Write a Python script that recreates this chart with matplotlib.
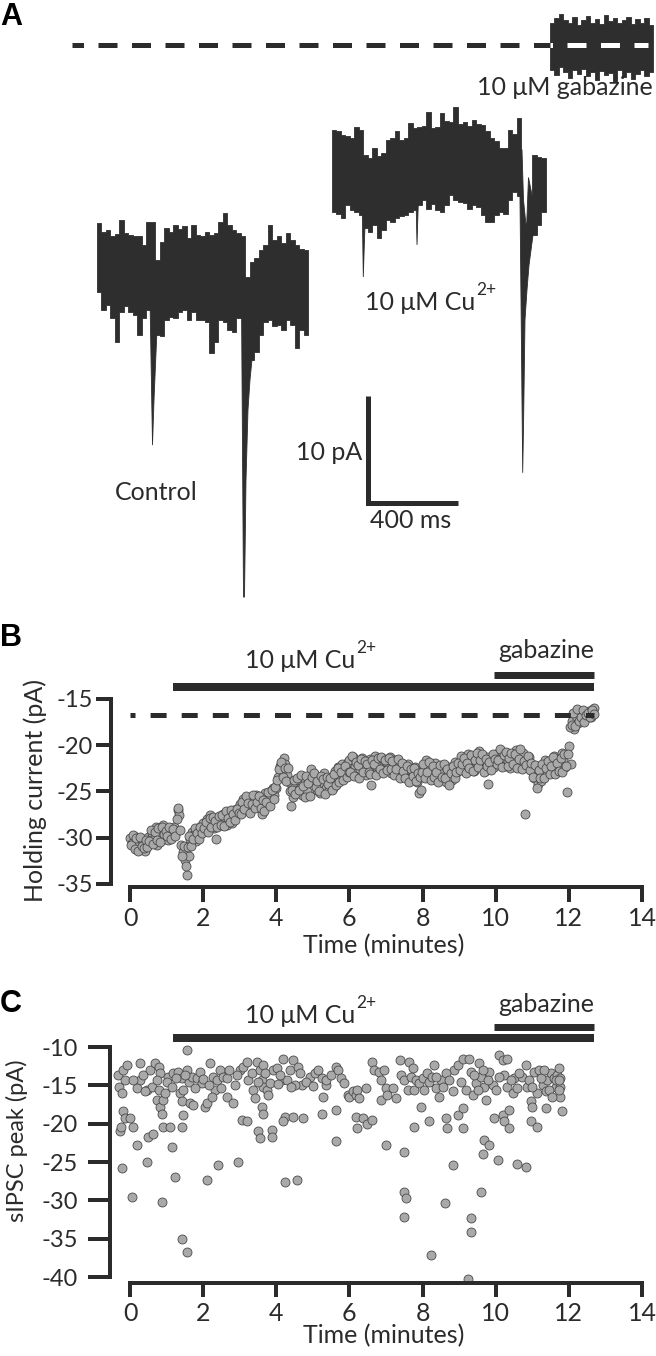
import numpy as np
import matplotlib
matplotlib.use("Agg")
import matplotlib.pyplot as plt
from matplotlib.patches import Polygon

plt.rcParams['font.family'] = ['Lato', 'DejaVu Sans']
plt.rcParams['lines.scale_dashes'] = False
plt.rcParams['axes.unicode_minus'] = False

# ======================= DATA =======================
# Panel A: example traces, upper / lower edge of the noisy current in 20-ms bins (pA, relative to baseline)
trace_bin_ms = 20.0
control_top = [4.9, 4.0, 4.2, 3.6, 3.8, 5.1, 3.9, 3.7, 3.6, 3.6, 2.8, 5.0, 5.0, 1.4, 3.1, 4.4,
               4.0, 4.7, 4.3, 4.6, 3.5, 4.7, 3.7, 3.6, 4.0, 3.7, 3.9, 5.0, 5.8, 4.7, 4.2, 3.9,
               3.6, -0.2, 1.2, 1.6, 2.3, 2.8, 4.7, 3.3, 3.6, 3.0, 3.9, 3.3, 2.8, 2.4, 2.3]
control_bottom = [-1.6, -3.3, -2.8, -4.0, -6.3, -3.5, -2.9, -3.5, -3.7, -5.6, -4.0, -3.3, -3.0,
                  -5.6, -5.7, -4.2, -3.9, -4.0, -3.5, -3.3, -4.2, -3.5, -4.2, -4.2, -4.4, -7.3,
                  -6.3, -4.2, -4.4, -5.1, -5.3, -4.0, -4.0, -6.0, -7.9, -7.2, -5.6, -4.4, -4.2,
                  -4.8, -4.7, -5.1, -4.2, -4.7, -6.8, -5.1, -5.6]
# sIPSC events in the control trace: outline (ms, pA)
control_events = [
    [(235.6, -2.3), (246.7, -15.9), (253.3, -11.7), (266.7, -5.1), (271.1, -2.3)],
    [(642.2, -2.3), (651.1, -30.1), (655.6, -30.1), (662.2, -19.2), (671.1, -12.6),
     (680.0, -9.8), (693.3, -7.0), (706.7, -4.2), (715.6, -2.3)],
]
cu_top = [3.7, 3.6, 3.3, 3.2, 3.0, 4.0, 3.7, 1.4, 1.1, 2.1, 1.3, 1.6, 2.8, 3.0, 3.6, 2.8, 3.0,
          4.4, 3.9, 4.0, 4.1, 5.4, 3.9, 4.0, 5.3, 4.6, 4.5, 5.9, 4.3, 4.5, 4.1, 4.7, 4.3, 4.2,
          3.6, 3.0, 2.7, 2.1, 2.1, 3.7, 3.4, 4.9]
cu_bottom = [-3.9, -4.1, -4.5, -3.3, -3.7, -3.9, -4.2, -5.4, -5.8, -5.1, -6.4, -5.6, -4.7, -4.9,
             -4.5, -4.3, -4.2, -3.9, -3.7, -3.3, -2.8, -3.6, -3.2, -3.7, -3.9, -3.3, -2.3, -2.8,
             -3.0, -3.1, -3.6, -3.3, -3.5, -4.2, -4.9, -4.9, -4.2, -3.9, -4.1, -2.8, -2.1, -2.4]
cu_tail_start_ms = 891.1
cu_tail_top = [1.4, 1.2, 1.1]
cu_tail_bottom = [-6.1, -5.1, -3.9]
cu_events = [
    [(133.3, -2.0), (139.1, -10.0), (144.4, -6.5), (151.1, -3.0)],
    [(373.3, -2.5), (377.8, -7.0), (384.4, -2.5)],
    [(833.3, 1.9), (840.0, -12.1), (847.6, -28.3), (851.6, -23.4), (857.8, -14.0), (866.7, -11.2),
     (875.6, -8.9), (884.4, -7.5), (893.3, -6.1), (893.3, -2.8), (873.3, -0.7), (864.4, -5.6),
     (851.1, -2.8), (844.4, 1.9)],
]
gbz_top = [2.1, 2.5, 2.9, 2.3, 2.1, 2.6, 1.9, 2.3, 2.7, 2.1, 2.4, 2.0, 2.8, 2.2, 2.5, 2.1, 2.3,
           2.6, 2.0, 2.4, 2.1, 2.5, 1.9]
gbz_bottom = [-2.3, -2.8, -2.1, -2.5, -3.1, -2.3, -2.7, -2.2, -2.9, -2.5, -3.3, -2.4, -2.8, -2.6,
              -3.5, -2.3, -3.0, -2.5, -3.2, -2.7, -2.3, -2.9, -2.5]
scale_ms, scale_pA = 400, 10

# Panel B: holding current, samples every 0.05 min (two interleaved sweeps, offset 0.025 min)
b_step_min = 0.05
b_holding = [
    -30.0, -30.6, -29.8, -31.0, -30.4, -31.3, -30.2, -30.8, -31.4, -30.5,
    -29.9, -30.6, -29.5, -30.2, -28.9, -30.8, -29.3, -29.9, -28.6, -30.1,
    -29.2, -30.3, -29.0, -29.6, -28.9, -29.4, -27.0, -27.6, -30.8, -31.6,
    -32.4, -34.0, -32.0, -30.2, -29.4, -29.6, -30.4, -29.0, -29.8, -28.7,
    -28.4, -29.2, -28.0, -28.8, -27.6, -28.5, -29.0, -30.2, -28.1, -27.8,
    -28.3, -27.4, -27.9, -28.6, -27.2, -27.8, -28.4, -27.0, -27.6, -26.8,
    -26.4, -27.2, -25.8, -26.6, -27.0, -26.2, -25.6, -26.8, -26.0, -25.4,
    -26.3, -25.7, -27.4, -26.0, -25.2, -26.5, -25.8, -25.0, -24.6, -25.4,
    -24.6, -23.4, -22.3, -22.8, -21.4, -22.0, -23.2, -24.0, -26.6, -25.6,
    -24.2, -25.0, -23.8, -24.6, -25.4, -23.6, -24.4, -25.0, -23.9, -22.6,
    -24.0, -23.2, -24.8, -23.6, -25.2, -24.4, -23.0, -24.6, -23.8, -24.9,
    -23.4, -24.6, -22.8, -23.9, -22.4, -23.2, -22.0, -23.6, -22.6, -21.8,
    -21.6, -22.8, -21.3, -22.2, -23.0, -21.9, -22.6, -21.4, -22.4, -23.2,
    -22.0, -21.5, -24.3, -22.6, -21.2, -22.2, -21.7, -22.9, -21.4, -22.3,
    -21.8, -22.5, -21.3, -23.0, -22.1, -21.6, -22.8, -22.2, -23.3, -22.0,
    -22.6, -23.4, -22.0, -23.8, -22.9, -23.6, -22.4, -24.0, -25.2, -24.8,
    -23.2, -22.4, -21.6, -23.0, -22.2, -23.5, -22.8, -21.9, -22.6, -23.4,
    -22.8, -23.6, -22.2, -24.0, -23.1, -22.4, -23.8, -22.7, -21.8, -22.9,
    -22.0, -21.2, -22.6, -21.6, -22.9, -21.0, -22.3, -21.5, -22.8, -21.8,
    -21.4, -20.6, -22.2, -21.7, -22.8, -21.3, -24.2, -22.0, -21.6, -22.4,
    -21.2, -20.8, -21.9, -20.6, -21.5, -22.3, -20.9, -21.7, -22.5, -21.0,
    -21.4, -20.5, -22.2, -21.0, -21.8, -20.8, -27.4, -22.0, -21.3, -22.6,
    -22.8, -23.6, -22.2, -24.2, -23.0, -23.9, -22.4, -21.6, -22.9, -22.0,
    -21.8, -22.6, -21.2, -22.9, -21.5, -22.2, -20.8, -21.6, -22.4, -25.1,
    -20.1, -22.0, -17.4, -18.2, -16.8, -17.6, -16.4, -17.0, -16.6, -17.2,
    -16.8, -16.3, -16.9, -16.1, -16.0,
]
b_holding_mid = [
    -30.8, -29.7, -31.2, -30.0, -31.5, -29.9, -30.9, -31.1, -30.3, -31.0,
    -30.4, -29.2, -30.7, -29.4, -30.3, -29.0, -30.5, -28.8, -29.6, -29.3,
    -29.8, -28.9, -30.2, -29.1, -29.8, -28.0, -26.8, -29.2, -32.0, -30.9,
    -33.1, -31.0, -29.8, -30.9, -30.1, -29.0, -29.5, -30.2, -28.9, -29.5,
    -29.0, -28.3, -29.4, -27.9, -28.9, -27.8, -28.2, -28.9, -27.7, -28.6,
    -27.6, -28.7, -27.1, -27.9, -28.3, -27.0, -27.4, -28.1, -26.9, -27.3,
    -27.4, -26.1, -26.9, -25.5, -26.3, -27.3, -26.4, -25.4, -26.8, -26.1,
    -25.5, -26.8, -25.9, -27.1, -26.2, -25.1, -26.6, -24.8, -25.8, -24.5,
    -23.8, -22.6, -21.8, -23.4, -22.5, -23.9, -22.5, -25.0, -24.9, -23.8,
    -25.3, -23.5, -24.9, -23.2, -24.4, -25.6, -23.3, -24.1, -25.5, -23.4,
    -23.0, -24.5, -23.9, -25.0, -23.3, -23.7, -25.3, -23.4, -24.2, -23.6,
    -24.8, -23.1, -24.3, -22.5, -24.0, -22.9, -23.8, -22.3, -23.4, -22.9,
    -22.9, -21.2, -23.3, -21.8, -22.1, -23.5, -21.5, -22.9, -21.7, -22.0,
    -22.9, -23.1, -21.6, -22.0, -23.2, -21.4, -22.6, -21.3, -23.0, -21.6,
    -22.7, -21.4, -22.6, -21.7, -23.2, -22.6, -21.5, -23.5, -21.9, -22.8,
    -23.5, -22.3, -24.0, -22.6, -23.3, -22.5, -23.9, -23.0, -23.4, -22.9,
    -22.0, -23.6, -22.9, -21.8, -23.8, -22.2, -23.4, -22.9, -24.0, -22.1,
    -23.4, -22.0, -23.5, -22.6, -24.3, -23.0, -22.2, -23.6, -22.9, -21.9,
    -22.7, -22.0, -21.4, -23.0, -21.9, -22.5, -21.1, -22.8, -21.6, -20.8,
    -22.4, -21.6, -20.9, -22.9, -21.5, -22.3, -21.8, -22.7, -20.9, -21.5,
    -22.0, -21.6, -20.4, -22.4, -21.1, -20.7, -22.2, -21.4, -20.8, -22.0,
    -20.9, -22.5, -21.5, -20.4, -22.6, -21.7, -22.1, -21.2, -22.7, -21.9,
    -23.4, -22.1, -24.6, -22.7, -23.5, -22.0, -23.6, -22.5, -21.7, -23.1,
    -22.3, -21.3, -23.1, -21.9, -22.8, -21.4, -22.9, -20.9, -22.2, -21.0,
    -18.0, -17.8, -16.5, -17.9, -16.1, -17.4, -16.9, -16.2, -17.5, -16.7,
    -16.5, -17.0, -16.2, -16.6,
]
gbz_level_pA = -16.7

# Panel C: sIPSC peaks (time in minutes, peak in pA)
c_events = [
    (-0.32, -13.7), (-0.29, -15.2), (-0.23, -16.0), (-0.18, -13.0), (-0.09, -12.3), (-0.14, -14.3),
    (-0.27, -21.0), (-0.25, -20.4), (-0.18, -18.4), (-0.14, -19.3), (0.00, -19.3), (0.07, -20.4),
    (-0.23, -25.8), (0.05, -29.5), (0.18, -22.8), (0.46, -25.0), (0.27, -14.3), (0.18, -15.4),
    (0.27, -12.1), (0.09, -14.3), (0.55, -13.0), (0.46, -15.6), (0.59, -15.2), (0.50, -21.7),
    (0.64, -21.3), (0.68, -12.1), (0.78, -12.6), (0.82, -13.4), (0.73, -14.3), (0.78, -15.6),
    (0.73, -16.9), (0.82, -17.8), (0.87, -18.7), (0.91, -16.9), (0.96, -16.0), (0.87, -30.2),
    (0.89, -20.4), (1.09, -20.4), (1.14, -23.0), (1.23, -26.9), (1.05, -13.9), (1.18, -13.4),
    (1.32, -13.2), (1.41, -14.1), (1.37, -16.0), (1.41, -17.1), (1.46, -15.6), (1.41, -20.4),
    (1.46, -18.9), (1.41, -35.0), (1.55, -36.7), (1.56, -10.4), (1.55, -13.0), (1.60, -14.5),
    (1.69, -13.9), (1.64, -17.3), (1.73, -17.6), (1.82, -14.1), (1.91, -13.2), (1.96, -14.7),
    (2.05, -17.8), (2.10, -17.3), (2.19, -12.1), (2.10, -27.3), (2.28, -13.9), (2.37, -14.3),
    (2.32, -15.6), (2.46, -13.0), (2.42, -25.4), (2.55, -13.9), (2.64, -14.1), (2.64, -16.5),
    (2.83, -17.3), (2.87, -15.0), (2.96, -25.0), (3.01, -13.0), (3.10, -12.6), (3.19, -11.9),
    (3.05, -19.5), (3.19, -19.7), (3.24, -14.3), (3.33, -13.4), (3.37, -15.6), (3.42, -16.7),
    (3.46, -11.9), (3.55, -13.0), (3.65, -12.3), (3.60, -14.3), (3.65, -15.2), (3.74, -15.6),
    (3.83, -14.7), (3.60, -17.8), (3.65, -18.7), (3.51, -21.0), (3.55, -21.9), (3.87, -20.8),
    (3.87, -21.7), (3.92, -13.0), (4.01, -12.8), (4.19, -11.5), (4.15, -14.3), (4.28, -14.3),
    (4.37, -13.0), (4.47, -11.7), (4.24, -19.1), (4.19, -19.7), (4.47, -19.1), (4.74, -19.3),
    (4.24, -27.6), (4.56, -27.3), (4.60, -12.6), (4.65, -13.4), (4.69, -15.0), (4.51, -15.0),
    (4.92, -13.9), (5.06, -13.4), (5.24, -14.1), (5.29, -16.5), (5.24, -18.7),
    (0.35, -13.6), (0.40, -15.8), (1.00, -14.6), (1.14, -15.2), (1.25, -14.0), (1.50, -13.6),
    (1.78, -15.3), (2.00, -14.2), (2.15, -15.0), (2.24, -16.5), (2.50, -15.3), (2.70, -13.0),
    (2.92, -13.6), (3.50, -14.6), (3.70, -13.4), (3.78, -16.2), (4.05, -14.8), (4.10, -13.6),
    (4.40, -15.2), (4.80, -14.5), (5.00, -15.1), (5.15, -13.0), (5.35, -15.0),
    (5.36, -14.3), (5.50, -13.7), (5.63, -12.6), (5.68, -13.0), (5.77, -14.1), (5.63, -18.2),
    (5.63, -22.3), (5.86, -14.7), (5.95, -16.3), (5.99, -16.5), (6.09, -15.8), (6.17, -16.3),
    (6.22, -15.6), (6.27, -16.7), (6.17, -19.1), (6.22, -20.6), (6.36, -19.3), (6.49, -20.0),
    (6.63, -19.5), (6.45, -15.4), (6.63, -11.9), (6.68, -13.0), (6.82, -13.2), (6.95, -13.0),
    (6.86, -14.3), (6.99, -15.4), (6.86, -16.9), (7.04, -16.3), (7.18, -15.4), (7.27, -16.7),
    (6.99, -22.8), (7.37, -11.7), (7.41, -13.7), (7.50, -14.3), (7.59, -15.6), (7.64, -11.9),
    (7.73, -12.8), (7.68, -13.9), (7.82, -14.3), (7.77, -15.6), (7.91, -14.7), (8.00, -14.1),
    (8.04, -15.6), (8.13, -13.4), (8.18, -14.5), (8.27, -13.9), (8.32, -12.3), (8.36, -15.4),
    (8.45, -16.5), (8.50, -14.3), (7.77, -20.4), (7.50, -23.7), (7.50, -28.9), (7.55, -29.7),
    (7.50, -32.1), (7.95, -17.8), (8.18, -19.7), (8.63, -19.3), (8.68, -20.6), (8.82, -25.4),
    (8.61, -30.4), (8.24, -37.1), (9.23, -40.2), (9.32, -32.3), (9.32, -34.1), (9.60, -28.9),
    (9.65, -23.9), (9.69, -22.1), (9.83, -22.8), (9.10, -20.6), (8.96, -18.9), (9.10, -18.0),
    (8.82, -15.8), (8.87, -13.0), (8.96, -12.3), (9.10, -11.5), (9.05, -14.5), (9.19, -15.6),
    (9.28, -11.5), (9.32, -13.2), (9.37, -16.3), (9.46, -14.7), (9.55, -12.1), (9.60, -13.9),
    (9.69, -15.2), (9.74, -16.9), (9.83, -13.2), (9.92, -15.0), (9.96, -19.3), (10.05, -24.7),
    (10.10, -11.0), (10.19, -11.7), (10.32, -11.5), (10.23, -13.7), (10.32, -15.2), (10.19, -18.9),
    (10.23, -19.7), (10.36, -18.2), (10.46, -16.0), (10.36, -20.6), (10.50, -14.1), (10.59, -15.4),
    (10.73, -13.9), (10.82, -12.3), (10.86, -15.2), (10.59, -25.2), (10.82, -25.6), (10.96, -17.1),
    (11.00, -17.8), (10.96, -19.7), (11.14, -20.4), (11.05, -13.2), (11.19, -13.0), (11.14, -16.0),
    (11.28, -15.0), (11.37, -15.8), (11.41, -14.3), (11.37, -18.0), (11.50, -13.4), (11.59, -14.1),
    (11.64, -15.2), (11.68, -13.7), (11.73, -12.8), (11.77, -14.1), (11.77, -15.2), (11.77, -16.5),
    (11.82, -18.4), (11.73, -15.6),
    (8.36, -13.9), (8.55, -15.2), (8.64, -13.4), (8.73, -14.3), (9.42, -13.7), (9.51, -15.6),
    (9.65, -13.0), (9.78, -14.3), (10.00, -15.6), (10.10, -13.9), (10.42, -14.3), (10.64, -13.4),
    (10.91, -14.3), (11.00, -15.2), (11.23, -14.1), (11.32, -13.0), (11.46, -15.6), (11.55, -16.5),
    (11.64, -14.3), (11.73, -14.3),
]
c_time = [t for t, v in c_events]
c_peak = [v for t, v in c_events]

# drug application (minutes)
cu_start, gbz_start, drug_end = 1.17, 9.95, 12.7

# ======================= STYLE / LAYOUT =======================
DARK = "#2b2b2b"
TRACE = "#2e2e2e"
FACE = "#a9a9a9"
EDGE = "#4a4a4a"
W, H = 656, 1356
P = 0.72  # points per pixel at 100 dpi
LETTER_FONT = ["Liberation Sans", "DejaVu Sans"]

fig = plt.figure(figsize=(W / 100, H / 100), dpi=100)
renderer = fig.canvas.get_renderer()


def ftext(px, py, s, **kw):
    kw.setdefault("color", DARK)
    return fig.text(px / W, 1 - py / H, s, **kw)


def cu_label(px, py, fs, ha="left"):
    """'10 µM Cu' with a raised, smaller '2+'."""
    t = ftext(px, py, "10 \u03bcM Cu", fontsize=fs, ha=ha, va="baseline")
    bb = t.get_window_extent(renderer)
    ftext(bb.x1 + 1, py - 15, "2+", fontsize=12.5, ha="left", va="baseline")


# ---------------- Panel A ----------------
PX_MS, PX_PA = 0.225, 10.7
axA = fig.add_axes([0, 1 - 620 / H, 1, 620 / H])
axA.set_xlim(0, W / PX_MS)
axA.set_ylim(-620 / PX_PA, 0)
axA.axis("off")


def place(px, py):
    return px / PX_MS, -py / PX_PA


def draw_trace(x0, y0, top, bottom, start_ms=0.0):
    n = len(top)
    edges = x0 + start_ms + trace_bin_ms * np.arange(n + 1)
    t = np.r_[top, top[-1]] + y0
    b = np.r_[bottom, bottom[-1]] + y0
    axA.fill_between(edges, b, t, step="post", color=TRACE, lw=0.6, zorder=2)


def draw_events(x0, y0, events):
    for ev in events:
        pts = [(x0 + ms, y0 + pa) for ms, pa in ev]
        axA.add_patch(Polygon(pts, closed=True, fc=TRACE, ec=TRACE, lw=0.6, zorder=2))


cx0, cy0 = place(97, 275)
draw_trace(cx0, cy0, control_top, control_bottom)
draw_events(cx0, cy0, control_events)

ux0, uy0 = place(332, 170)
draw_trace(ux0, uy0, cu_top, cu_bottom)
draw_trace(ux0, uy0, cu_tail_top, cu_tail_bottom, start_ms=cu_tail_start_ms)
draw_events(ux0, uy0, cu_events)

gx0, gy0 = place(550, 45)
draw_trace(gx0, gy0, gbz_top, gbz_bottom)

# gabazine holding level (dashed)
axA.plot([72 / PX_MS, gx0], [gy0, gy0], color=DARK, lw=5 * P, zorder=1,
         ls=(7.5 * P, (19 * P, 14.5 * P)), dash_capstyle="butt")
axA.plot([gx0, 648 / PX_MS], [gy0, gy0], color="white", lw=5 * P, zorder=3,
         ls=(16.5 * P, (19 * P, 14.5 * P)), dash_capstyle="butt")

# scale bar
sbx, sby = place(368, 503)
axA.plot([sbx, sbx, sbx + scale_ms], [sby + scale_pA, sby, sby], color=DARK, lw=5 * P,
         solid_joinstyle="miter", solid_capstyle="butt")

FS_A = 18
ftext(0, 25, "A", fontsize=22, fontweight="bold", family=LETTER_FONT,
      ha="left", va="baseline", color="black")
ftext(653, 95, "10 \u03bcM gabazine", fontsize=FS_A, ha="right", va="baseline")
cu_label(365, 310, FS_A)
ftext(362, 460, "10 pA", fontsize=FS_A, ha="right", va="baseline")
ftext(411, 528, "400 ms", fontsize=FS_A, ha="center", va="baseline")
ftext(115, 500, "Control", fontsize=FS_A, ha="left", va="baseline")

# ---------------- Panels B & C ----------------
X0_PX, PX_MIN = 130, 36.57


def make_panel(top_px, bottom_px, yref, yref_px, px_per_pa, spine_px, yticks,
               ylen_px, ypad_px, xlen_px):
    left_px, right_px = 100, 652
    ax = fig.add_axes([left_px / W, 1 - bottom_px / H, (right_px - left_px) / W,
                       (bottom_px - top_px) / H])
    ax.set_xlim((left_px - X0_PX) / PX_MIN, (right_px - X0_PX) / PX_MIN)
    ax.set_ylim(yref - (bottom_px - yref_px) / px_per_pa, yref + (yref_px - top_px) / px_per_pa)
    ax.patch.set_visible(False)
    for s in ["top", "right"]:
        ax.spines[s].set_visible(False)
    ax.spines["left"].set_position(("data", (spine_px - X0_PX) / PX_MIN))
    ax.spines["left"].set_bounds(yticks[0], yticks[-1])
    ax.spines["bottom"].set_bounds(0, 14)
    for s in ["left", "bottom"]:
        ax.spines[s].set_linewidth(4 * P)
        ax.spines[s].set_color(DARK)
        ax.spines[s].set_capstyle("projecting")
    ax.set_xticks(range(0, 15, 2))
    ax.set_xticklabels([str(v) for v in range(0, 15, 2)])
    ax.set_yticks(yticks)
    ax.set_yticklabels([str(v) for v in yticks])
    ax.tick_params(axis="both", direction="out", width=4 * P, color=DARK, labelcolor=DARK)
    ax.tick_params(axis="x", length=xlen_px * P, pad=3.5, labelsize=18)
    ax.tick_params(axis="y", length=ylen_px * P, pad=ypad_px * P, labelsize=17)

    def py2y(py):
        return yref + (yref_px - py) / px_per_pa
    return ax, py2y


axB, yB = make_panel(640, 887, -15, 699, 9.24, 111, [-35, -30, -25, -20, -15], 15.5, 3, 15)
b_time = np.arange(len(b_holding)) * b_step_min
b_time_mid = np.arange(len(b_holding_mid)) * b_step_min + b_step_min / 2
axB.scatter(np.r_[b_time, b_time_mid], np.r_[b_holding, b_holding_mid], s=42, c=FACE,
            edgecolors=EDGE, linewidths=0.6, zorder=2)
axB.plot([0, drug_end], [gbz_level_pA, gbz_level_pA], color=DARK, lw=5 * P, zorder=4,
         ls=(11 * P, (16 * P, 15.1 * P)), dash_capstyle="butt", clip_on=False)
axB.plot([cu_start, drug_end], [yB(687)] * 2, color=DARK, lw=8 * P, solid_capstyle="butt",
         clip_on=False)
axB.plot([gbz_start, drug_end], [yB(675)] * 2, color=DARK, lw=7 * P, solid_capstyle="butt",
         clip_on=False)

axC, yC = make_panel(995, 1283, -10, 1047, 7.67, 110, [-40, -35, -30, -25, -20, -15, -10],
                     22, 10, 14)
axC.scatter(c_time, c_peak, s=42, c=FACE, edgecolors=EDGE, linewidths=0.6, zorder=2)
axC.plot([cu_start, drug_end], [yC(1038)] * 2, color=DARK, lw=8 * P, solid_capstyle="butt",
         clip_on=False)
axC.plot([gbz_start, drug_end], [yC(1027)] * 2, color=DARK, lw=7 * P, solid_capstyle="butt",
         clip_on=False)

# labels for B and C
FS_L = 18
ftext(0, 646, "B", fontsize=22, fontweight="bold", family=LETTER_FONT,
      ha="left", va="baseline", color="black")
ftext(0, 1012, "C", fontsize=22, fontweight="bold", family=LETTER_FONT,
      ha="left", va="baseline", color="black")
cu_label(245, 668, FS_L)
ftext(594, 658, "gabazine", fontsize=FS_L, ha="right", va="baseline")
cu_label(245, 1023, FS_L)
ftext(594, 1012, "gabazine", fontsize=FS_L, ha="right", va="baseline")
ftext(35, 790, "Holding current (pA)", fontsize=FS_L, rotation=90, ha="center", va="center")
ftext(17, 1141, "sIPSC peak (pA)", fontsize=17, rotation=90, ha="center", va="center")
ftext(384, 946, "Time (minutes)", fontsize=FS_L, ha="center", va="center")
ftext(384, 1336, "Time (minutes)", fontsize=FS_L, ha="center", va="center")

fig.savefig("out.png", dpi=100)
